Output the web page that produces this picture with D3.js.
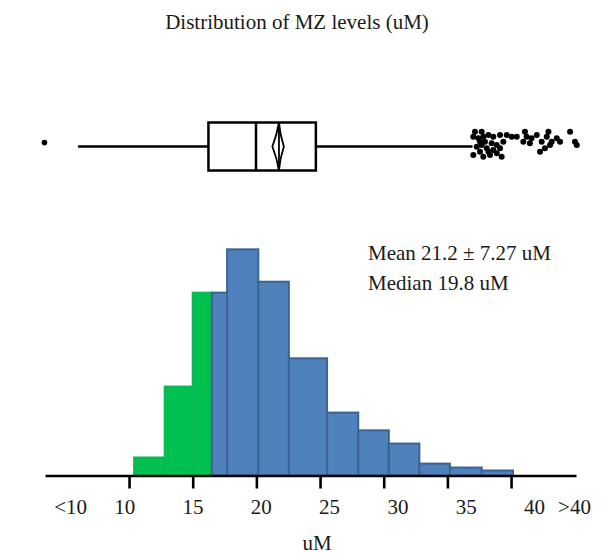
<!DOCTYPE html>
<html><head><meta charset="utf-8">
<script src="https://cdn.jsdelivr.net/npm/d3@7"></script>
<style>
body{margin:0;background:#fff}
svg{display:block}
text{font-family:"Liberation Serif","Times New Roman",serif;fill:#1a1a1a}
</style>
</head><body>
<svg id="chart" width="604" height="559"></svg>
<script>
// ---- Histogram bins (uM) and relative frequency ----
const binStart = [10.4, 12.8, 15.0, 16.5, 17.7, 20.15, 22.55, 25.55, 28.0, 30.4, 32.8, 35.2, 37.7];
const binEnd   = [12.8, 15.0, 16.5, 17.7, 20.15, 22.55, 25.55, 28.0, 30.4, 32.8, 35.2, 37.7, 40.15];
const binFreq  = [3.95, 19.5, 40.1, 40.1, 49.6, 42.5, 25.7, 13.8, 9.9, 7.0, 2.6, 1.75, 1.1];
const binGroup = ["low","low","low","high","high","high","high","high","high","high","high","high","high"];

// ---- Axis ticks / labels ----
const tickValues = [10, 15, 20, 25, 30, 35, 40];
const tickLabels = ["10", "15", "20", "25", "30", "35", "40"];
const lowLabel = "<10";
const highLabel = ">40";

// ---- Box plot summary (uM) ----
const boxQuartiles = [16.9, 19.8, 23.45];      // Q1, median, Q3
const boxWhiskers = [8.95, 33.0];              // low, high
const meanDiamond = [20.8, 21.2, 21.5];        // CI low, mean, CI high
const lowOutliers = [6.9];
const lowJitter = [-0.28];
const highOutliers = [33.15, 33.56, 33.05, 33.36, 33.66, 33.97, 34.27, 34.68, 35.09, 35.39, 35.70, 36.2, 36.3, 36.6, 36.92,
  37.22, 37.53, 37.63, 37.83, 38.14, 38.34, 38.95, 39.25, 39.36, 37.12, 37.42, 37.73, 36.1, 36.5, 33.05, 33.46, 33.66,
  34.07, 34.48, 34.78, 33.26, 33.56, 33.87, 34.17, 34.48, 34.88, 34.27, 33.97, 34.68, 33.76, 33.46];
const highJitter = [-1.06, -1.06, -0.70, -0.59, -0.70, -0.82, -0.70, -0.82, -0.82, -0.70, -0.70, -1.06, -0.70, -0.59, -0.82,
  -0.34, -0.70, -1.06, -0.34, -0.59, -0.34, -1.06, -0.34, -0.11, 0.37, 0.13, -0.11, -0.34, -0.23, 0.61, 0.37, 0.73,
  0.61, 0.49, 0.73, 0.01, -0.11, 0.13, -0.23, -0.11, -0.34, 0.25, 0.37, 0.13, -0.34, -0.34];

// ---- Text ----
const titleText = "Distribution of MZ levels (uM)";
const statLines = ["Mean 21.2 \u00b1 7.27 uM", "Median 19.8 uM"];
const axisTitle = "uM";

const svg = d3.select("#chart");
const FS = 21;

// Scales
const x = d3.scaleLinear().domain([3.4, 45.1]).range([45, 576]);       // histogram / axis
const xLab = d3.scaleLinear().domain([10, 40]).range([124.7, 534.5]);   // tick label placement
const bx = d3.scaleLinear().domain([5, 40]).range([13.28, 587.28]);     // box plot
const y = d3.scaleLinear().domain([0, 50]).range([475.5, 247.5]);

// Title
svg.append("text").attr("x", 297).attr("y", 29).attr("text-anchor", "middle")
  .attr("font-size", FS).text(titleText);

// ---- Box plot ----
const bc = 146.5, bh = 24, jitterAmp = 14;
const g = svg.append("g").attr("stroke", "#000").attr("fill", "none").attr("stroke-width", 2.5);
g.append("line").attr("x1", bx(boxWhiskers[0])).attr("x2", bx(boxQuartiles[0])).attr("y1", bc).attr("y2", bc);
g.append("line").attr("x1", bx(boxQuartiles[2])).attr("x2", bx(boxWhiskers[1])).attr("y1", bc).attr("y2", bc);
g.append("rect").attr("x", bx(boxQuartiles[0])).attr("y", bc - bh)
  .attr("width", bx(boxQuartiles[2]) - bx(boxQuartiles[0])).attr("height", 2 * bh);
g.append("line").attr("x1", bx(boxQuartiles[1])).attr("x2", bx(boxQuartiles[1])).attr("y1", bc - bh).attr("y2", bc + bh);
g.append("path").attr("stroke-width", 1.8)
  .attr("d", `M${bx(meanDiamond[1])},${bc - bh} Q${bx(meanDiamond[1]) + 1},${bc - bh / 2} ${bx(meanDiamond[2])},${bc} Q${bx(meanDiamond[1]) + 1},${bc + bh / 2} ${bx(meanDiamond[1])},${bc + bh} Q${bx(meanDiamond[1]) - 2},${bc + bh / 2} ${bx(meanDiamond[0])},${bc} Q${bx(meanDiamond[1]) - 2},${bc - bh / 2} ${bx(meanDiamond[1])},${bc - bh} Z`);
g.append("line").attr("stroke-width", 1.8).attr("x1", bx(meanDiamond[1])).attr("x2", bx(meanDiamond[1])).attr("y1", bc - bh).attr("y2", bc + bh);

svg.append("g").selectAll("circle").data(lowOutliers).join("circle")
  .attr("cx", d => bx(d)).attr("cy", (d, i) => bc + lowJitter[i] * jitterAmp).attr("r", 2.8).attr("fill", "#000");
svg.append("g").selectAll("circle").data(highOutliers).join("circle")
  .attr("cx", d => bx(d)).attr("cy", (d, i) => bc + highJitter[i] * jitterAmp).attr("r", 3).attr("fill", "#000");

// ---- Histogram ----
const bins = binStart.map((s, i) => ({s, e: binEnd[i], f: binFreq[i], g: binGroup[i]}));
svg.append("g").selectAll("rect").data(bins).join("rect")
  .attr("x", d => x(d.s)).attr("y", d => y(d.f))
  .attr("width", d => x(d.e) - x(d.s)).attr("height", d => y(0) - y(d.f))
  .attr("fill", d => d.g === "low" ? "#00c050" : "#4f81bd")
  .attr("stroke", d => d.g === "low" ? "#0cb855" : "#3b6492")
  .attr("stroke-width", 2);

// Axis
const ax = svg.append("g").attr("transform", `translate(0,${y(0)})`)
  .call(d3.axisBottom(x).tickValues(tickValues).tickFormat("").tickSizeInner(13).tickSizeOuter(0));
ax.select(".domain").attr("stroke", "#000").attr("stroke-width", 2.6);
ax.selectAll(".tick line").attr("stroke", "#000").attr("stroke-width", 2.6);

// Tick labels
const labY = 513.5;
svg.append("g").selectAll("text").data(tickValues).join("text")
  .attr("x", d => xLab(d)).attr("y", labY).attr("text-anchor", "middle").attr("font-size", FS)
  .text((d, i) => tickLabels[i]);
svg.append("text").attr("x", xLab(10) - 54).attr("y", labY).attr("text-anchor", "middle").attr("font-size", FS).text(lowLabel);
svg.append("text").attr("x", xLab(40) + 40).attr("y", labY).attr("text-anchor", "middle").attr("font-size", FS).text(highLabel);

// Axis title
svg.append("text").attr("x", 317).attr("y", 550).attr("text-anchor", "middle").attr("font-size", FS).text(axisTitle);

// Stats annotation
svg.append("g").selectAll("text").data(statLines).join("text")
  .attr("x", 368).attr("y", (d, i) => 260 + i * 30).attr("font-size", FS).text(d => d);
</script>
</body></html>
